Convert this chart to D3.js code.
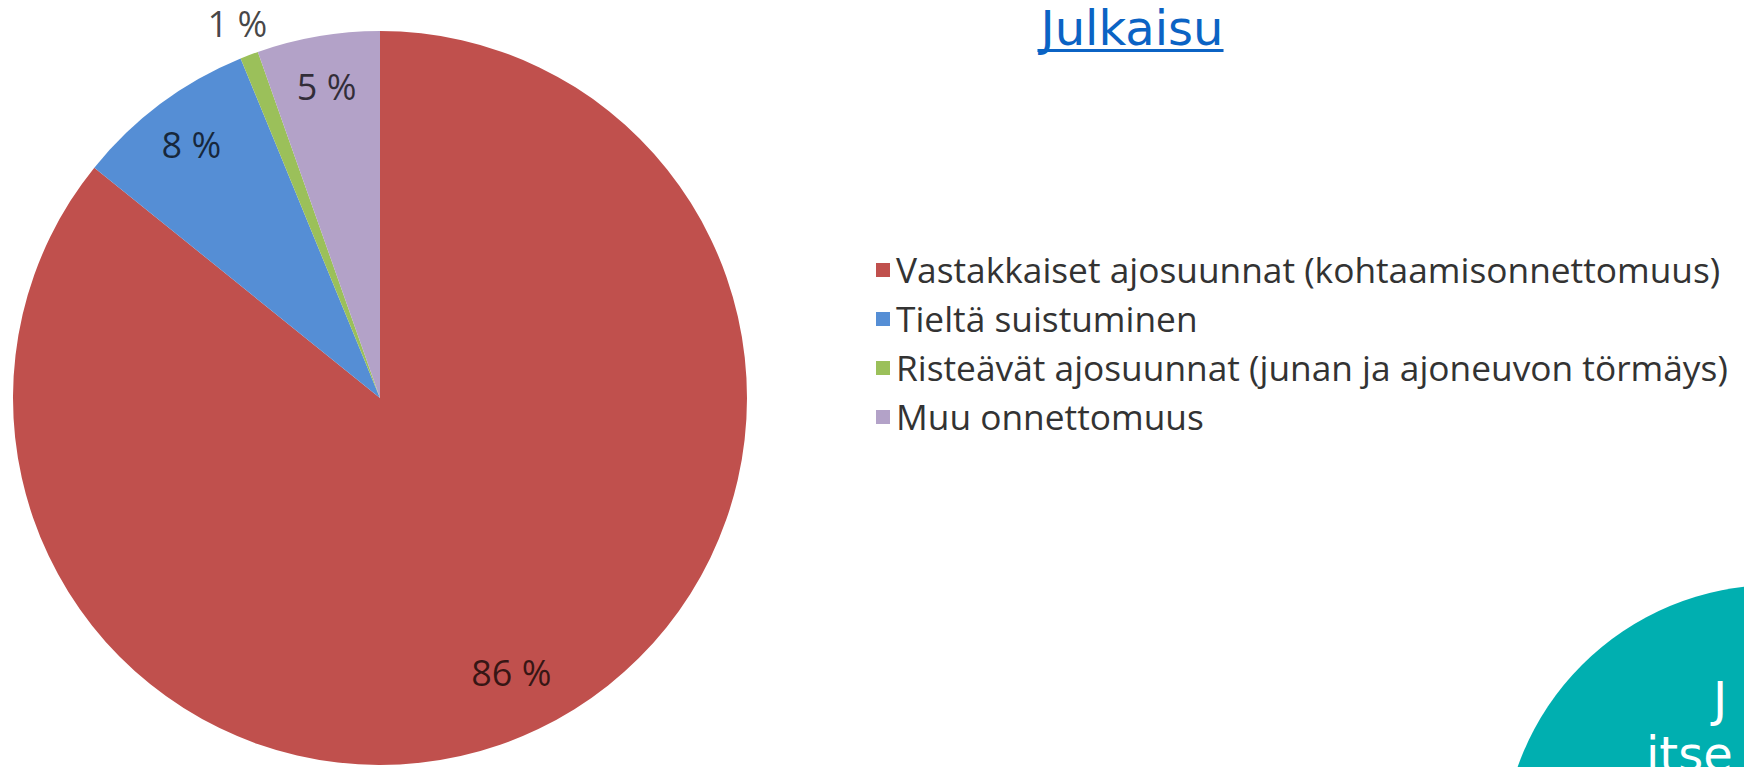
<!DOCTYPE html>
<html>
<head>
<meta charset="utf-8">
<script src="https://cdn.jsdelivr.net/npm/d3@7"></script>
<style>
    body { margin: 0; background: #fff; overflow: hidden; }
    svg { display: block; }
</style>
</head>
<body>
<svg id="chart"></svg>
<script>
// onnettomuustyypit, osuudet (%)
const categories = [
    "Vastakkaiset ajosuunnat (kohtaamisonnettomuus)",
    "Tieltä suistuminen",
    "Risteävät ajosuunnat (junan ja ajoneuvon törmäys)",
    "Muu onnettomuus"
];
const shares = [85.8, 8.0, 0.8, 5.4];
const sliceColors = ["#c0504d", "#558ed5", "#9bc05a", "#b3a2c8"];
const linkText = "Julkaisu";
const badgeLines = ["J", "itse"];

const width = 1744, height = 767;

class PieChart {
    constructor(svg, width, height) {
        this.svg = svg;
        this.width = width;
        this.height = height;
        this.cx = 380;
        this.cy = 398;
        this.radius = 367;
    }

    initialize() {
        this.svg = d3.select(this.svg)
            .attr("width", this.width)
            .attr("height", this.height);
        this.container = this.svg.append("g")
            .attr("transform", `translate(${this.cx}, ${this.cy})`);
        this.labels = this.svg.append("g")
            .attr("transform", `translate(${this.cx}, ${this.cy})`);
        this.legend = this.svg.append("g")
            .attr("transform", "translate(876, 270)");

        this.zScale = d3.scaleOrdinal().domain(categories).range(sliceColors);
    }

    update(data) {
        const pie = d3.pie().sort(null).value(d => d.value);
        const arcs = pie(data);
        const arc = d3.arc().innerRadius(0).outerRadius(this.radius);

        this.container.selectAll("path")
            .data(arcs)
            .join("path")
            .attr("d", arc)
            .attr("fill", d => this.zScale(d.data.name));

        // label ring: small slices outside the pie, the big one a bit further in
        const ring = f => d3.arc().innerRadius(this.radius * f).outerRadius(this.radius * f);
        const labelPos = d => {
            if (d.data.value < 2) return ring(1.09).centroid(d);
            if (d.data.value > 50) return ring(0.83).centroid(d);
            return ring(0.86).centroid(d);
        };

        this.labels.selectAll("text")
            .data(arcs)
            .join("text")
            .attr("transform", d => `translate(${labelPos(d)})`)
            .attr("text-anchor", "middle")
            .attr("dy", "0.36em")
            .style("font-family", "'Open Sans', sans-serif")
            .style("font-size", "36px")
            .attr("fill", "#000")
            .attr("fill-opacity", 0.72)
            .text(d => Math.round(d.data.value) + " %");

        const rowH = 49;
        const rows = this.legend.selectAll("g")
            .data(data)
            .join("g")
            .attr("transform", (d, i) => `translate(0, ${i * rowH})`);

        rows.append("rect")
            .attr("x", 0)
            .attr("y", -7)
            .attr("width", 14)
            .attr("height", 14)
            .attr("fill", d => this.zScale(d.name));

        rows.append("text")
            .attr("x", 20)
            .attr("dy", "0.36em")
            .style("font-family", "'Open Sans', sans-serif")
            .style("font-size", "35.3px")
            .attr("fill", "#333")
            .text(d => d.name);
    }
}

const data = categories.map((name, i) => ({ name: name, value: shares[i] }));

const chart = new PieChart(document.getElementById("chart"), width, height);
chart.initialize();
chart.update(data);

const svg = d3.select("#chart");

// link above the legend
const link = svg.append("text")
    .attr("x", 1132)
    .attr("y", 45)
    .attr("text-anchor", "middle")
    .style("font-family", "'DejaVu Sans', sans-serif")
    .style("font-size", "48px")
    .attr("fill", "#0b63c4")
    .text(linkText);
const bb = link.node().getBBox();
svg.append("rect")
    .attr("x", bb.x)
    .attr("y", 49)
    .attr("width", bb.width)
    .attr("height", 3)
    .attr("fill", "#0b63c4");

// teal badge in the corner
svg.append("circle")
    .attr("cx", 1775)
    .attr("cy", 858)
    .attr("r", 273)
    .attr("fill", "#00afb0");

svg.selectAll(".badge")
    .data(badgeLines)
    .join("text")
    .attr("class", "badge")
    .attr("x", (d, i) => i === 0 ? 1713 : 1646)
    .attr("y", (d, i) => i === 0 ? 716 : 771)
    .style("font-family", "'DejaVu Sans', sans-serif")
    .style("font-size", "48px")
    .attr("fill", "#fff")
    .text(d => d);
</script>
</body>
</html>
